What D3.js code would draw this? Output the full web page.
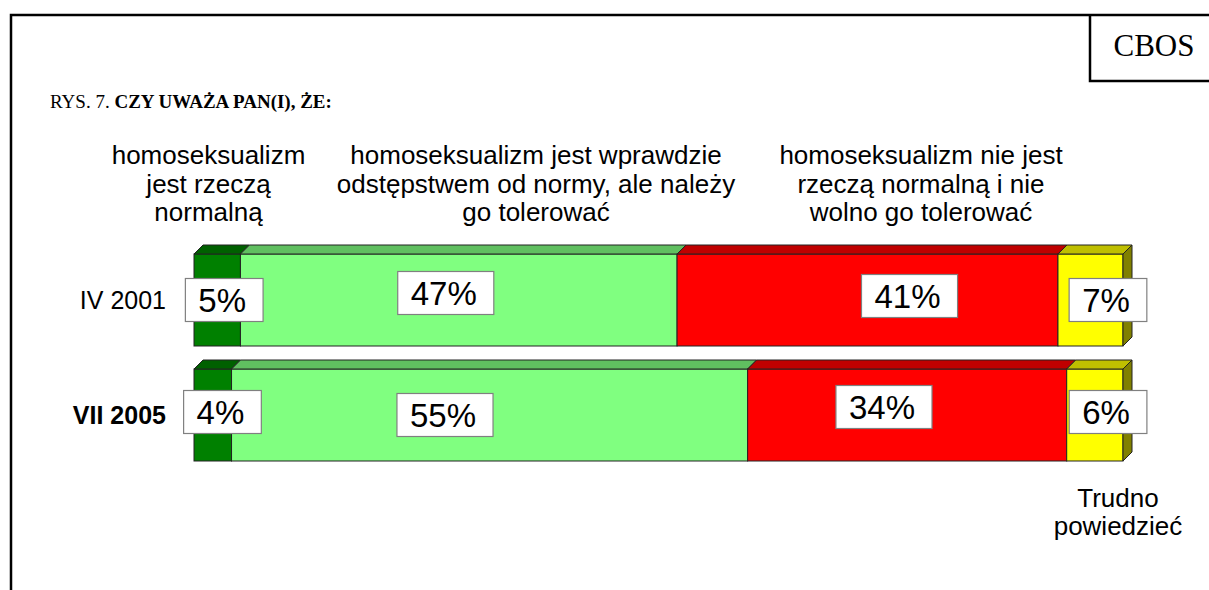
<!DOCTYPE html>
<html>
<head>
<meta charset="utf-8">
<script src="https://cdn.jsdelivr.net/npm/d3@7"></script>
<style>
  body { margin: 0; background: #fff; }
  svg { display: block; }
</style>
</head>
<body>
<div class="render"></div>
<script>
"use strict";

// data
var categories = ["IV 2001", "VII 2005"];
var seriesKeys = ["normalna", "tolerowac", "nieTolerowac", "trudno"];
var normalna = [5, 4];
var tolerowac = [47, 55];
var nieTolerowac = [41, 34];
var trudno = [7, 6];
var headerLabels = [
   ["homoseksualizm", "jest rzeczą", "normalną"],
   ["homoseksualizm jest wprawdzie", "odstępstwem od normy, ale należy", "go tolerować"],
   ["homoseksualizm nie jest", "rzeczą normalną i nie", "wolno go tolerować"]
];
var footLabel = ["Trudno", "powiedzieć"];

var width = 1209;
var height = 590;
var depth = 9;

var frontFill = { normalna: "#008000", tolerowac: "#80ff80", nieTolerowac: "#ff0000", trudno: "#ffff00" };
var topFill = { normalna: "#006000", tolerowac: "#60bf60", nieTolerowac: "#bf0000", trudno: "#bfbf00" };
var sideFill = "#808000";

// data labels were dragged by hand in the original, these are the nudges
var nudgeX = [[7, -13, 42, 17.5], [9.7, -44.6, -23.2, 13.2]];
var nudgeY = [[0, -7, -4, 0], [-3, 0, -8, -3]];

var rows = categories.map(function (c, i) {
   return { cat: c, normalna: normalna[i], tolerowac: tolerowac[i], nieTolerowac: nieTolerowac[i], trudno: trudno[i] };
});
var stacked = d3.stack().keys(seriesKeys).offset(d3.stackOffsetExpand)(rows);

var x = d3.scaleLinear().domain([0, 1]).range([194, 1123]);
var y = d3.scaleBand().domain(categories).range([254, 461]).paddingInner(0.2).paddingOuter(0);

var svg = d3.select('.render').append('svg').attr('width', width).attr('height', height);
svg.append('rect').attr('width', width).attr('height', height).attr('fill', '#fff');

// frame
svg.append('path').attr('d', 'M11,590V15H1209').attr('fill', 'none').attr('stroke', '#000').attr('stroke-width', 2.5);
svg.append('path').attr('d', 'M1090,15V81H1209').attr('fill', 'none').attr('stroke', '#000').attr('stroke-width', 2.5);
svg.append('text').attr('x', 1154).attr('y', 56).attr('text-anchor', 'middle')
   .style('font-family', '"Liberation Serif", "Times New Roman", serif').style('font-size', '31px').text('CBOS');

var title = svg.append('text').attr('x', 50).attr('y', 108)
   .style('font-family', '"Liberation Serif", "Times New Roman", serif').style('font-size', '19px');
title.append('tspan').text('RYS. 7. ');
title.append('tspan').style('font-weight', 'bold').text('CZY UWAŻA PAN(I), ŻE:');

// header labels over the first three segments
var headerX = [208.5, 536, 921];
headerLabels.forEach(function (lines, i) {
   var t = svg.append('text').attr('text-anchor', 'middle')
      .style('font-family', 'Arial, "Liberation Sans", sans-serif').style('font-size', '26px');
   lines.forEach(function (l, j) {
      t.append('tspan').attr('x', headerX[i]).attr('y', 164 + j * 28.5).text(l);
   });
});
var ft = svg.append('text').attr('text-anchor', 'middle')
   .style('font-family', 'Arial, "Liberation Sans", sans-serif').style('font-size', '26px');
footLabel.forEach(function (l, j) {
   ft.append('tspan').attr('x', 1118).attr('y', 507 + j * 28).text(l);
});

// category labels
svg.selectAll('.cat').data(categories).enter().append('text').attr('class', 'cat')
   .attr('x', 166).attr('y', function (d) { return y(d) + y.bandwidth() / 2 + 9; })
   .attr('text-anchor', 'end')
   .style('font-family', 'Arial, "Liberation Sans", sans-serif').style('font-size', '25px')
   .style('font-weight', function (d, i) { return i === 1 ? 'bold' : 'normal'; })
   .text(function (d) { return d; });

// 3d bars
var h = y.bandwidth();
stacked.forEach(function (layer, si) {
   var key = layer.key;
   var g = svg.append('g').attr('class', 'series-' + key);
   layer.forEach(function (seg) {
      var x0 = x(seg[0]), x1 = x(seg[1]), yy = y(seg.data.cat);
      g.append('rect').attr('x', x0).attr('y', yy).attr('width', x1 - x0).attr('height', h)
         .attr('fill', frontFill[key]).attr('stroke', '#222').attr('stroke-width', 1);
      g.append('path')
         .attr('d', 'M' + x0 + ',' + yy + 'L' + (x0 + depth) + ',' + (yy - depth) + 'L' + (x1 + depth) + ',' + (yy - depth) + 'L' + x1 + ',' + yy + 'Z')
         .attr('fill', topFill[key]).attr('stroke', '#222').attr('stroke-width', 1).attr('stroke-linejoin', 'round');
      if (si === stacked.length - 1) {
         g.append('path')
            .attr('d', 'M' + x1 + ',' + yy + 'L' + (x1 + depth) + ',' + (yy - depth) + 'L' + (x1 + depth) + ',' + (yy + h - depth) + 'L' + x1 + ',' + (yy + h) + 'Z')
            .attr('fill', sideFill).attr('stroke', '#222').attr('stroke-width', 1).attr('stroke-linejoin', 'round');
      }
   });
});

// data labels in white boxes
stacked.forEach(function (layer, si) {
   layer.forEach(function (seg, ri) {
      var val = seg.data[layer.key];
      var cx = x((seg[0] + seg[1]) / 2) + nudgeX[ri][si];
      var cy = y(seg.data.cat) + h / 2 + nudgeY[ri][si];
      var g = svg.append('g').attr('class', 'label');
      var box = g.append('rect').attr('fill', '#fff').attr('stroke', '#808080').attr('stroke-width', 1.2);
      var t = g.append('text').attr('x', cx - 2).attr('y', cy + 12).attr('text-anchor', 'middle')
         .style('font-family', 'Arial, "Liberation Sans", sans-serif').style('font-size', '33px')
         .text(val + '%');
      var tw = t.node().getComputedTextLength() + 30;
      box.attr('x', cx - tw / 2).attr('y', cy - 21.5).attr('width', tw).attr('height', 43);
   });
});
</script>
</body>
</html>
